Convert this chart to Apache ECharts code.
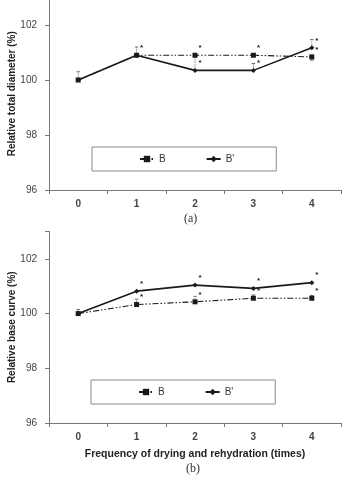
<!DOCTYPE html>
<html>
<head>
<meta charset="utf-8">
<script src="https://cdn.jsdelivr.net/npm/echarts@6/dist/echarts.min.js"></script>
<style>
html, body { margin: 0; padding: 0; background: #fff; }
#chart { width: 342px; height: 485px; }
</style>
</head>
<body>
<div id="chart"></div>
<script>
// drying / rehydration cycles
var cycles = ['0', '1', '2', '3', '4']
var yTicks = [96, 98, 100, 102]

// (a) relative total diameter
var diamB = [100, 100.9, 100.9, 100.9, 100.84]
var diamBp = [100, 100.9, 100.35, 100.35, 101.17]
var diamErrB = [0, 0, 0, 0, -0.12]
var diamErrBp = [0.3, 0.3, 0.5, 0.25, 0.3]
var diamStarB = [0, 0, 1, 1, 1]
var diamStarBp = [0, 1, 1, 1, 1]

// (b) relative base curve
var curveB = [100, 100.33, 100.43, 100.56, 100.56]
var curveBp = [100, 100.82, 101.04, 100.92, 101.13]
var curveErrB = [0.15, 0.2, 0.2, 0.12, 0.1]
var curveErrBp = [0, 0, 0, 0, 0]
var curveStarB = [0, 1, 1, 1, 1]
var curveStarBp = [0, 1, 1, 1, 1]

var ink = '#1a1a1a'
var axisGray = '#777'
var labelGray = '#444'

function xAxisOf(idx, name) {
  return {
    type: 'category',
    gridIndex: idx,
    data: cycles,
    boundaryGap: true,
    axisLine: { lineStyle: { color: axisGray, width: 1 } },
    axisTick: { show: true, length: 4, lineStyle: { color: axisGray } },
    axisLabel: { color: labelGray, fontSize: 10, fontWeight: 'bold', fontFamily: 'Liberation Sans', margin: 9 },
    name: name || '',
    nameLocation: 'middle',
    nameGap: 26,
    nameMoveOverlap: false,
    nameTextStyle: { color: '#222', fontSize: 10.5, fontWeight: 'bold', fontFamily: 'Liberation Sans' }
  }
}

function yAxisOf(idx, name) {
  return {
    type: 'value',
    gridIndex: idx,
    min: 96,
    max: 103,
    interval: 2,
    splitLine: { show: false },
    axisLine: { show: true, lineStyle: { color: axisGray, width: 1 } },
    axisTick: { show: true, length: 4, lineStyle: { color: axisGray } },
    axisLabel: {
      color: labelGray, fontSize: 10, fontFamily: 'Liberation Sans', margin: 12,
      formatter: function (v) { return yTicks.indexOf(v) >= 0 ? String(v) : '' }
    },
    name: name,
    nameLocation: 'middle',
    nameGap: 32,
    nameMoveOverlap: false,
    nameTextStyle: { color: '#222', fontSize: 10, fontWeight: 'bold', fontFamily: 'Liberation Sans' }
  }
}

function starLabel(flags) {
  return {
    show: true,
    position: [6, -9],
    fontSize: 8,
    color: '#222',
    fontWeight: 'bold',
    formatter: function (p) { return flags[p.dataIndex] ? '*' : '' }
  }
}

function lineSeries(idx, name, values, flags, dashed) {
  return {
    name: name,
    type: 'line',
    xAxisIndex: idx,
    yAxisIndex: idx,
    data: values,
    symbol: dashed ? 'rect' : 'diamond',
    symbolSize: 5,
    itemStyle: { color: ink },
    lineStyle: dashed
      ? { color: ink, width: 1.1, type: [6, 2, 1.5, 2, 1.5, 2] }
      : { color: ink, width: 1.6 },
    label: starLabel(flags),
    z: dashed ? 3 : 4
  }
}

function errorSeries(idx, values, errs) {
  return {
    type: 'custom',
    xAxisIndex: idx,
    yAxisIndex: idx,
    data: values.map(function (v, i) { return [i, v, v + errs[i]] }),
    renderItem: function (params, api) {
      if (api.value(1) === api.value(2)) return null
      var a = api.coord([api.value(0), api.value(1)])
      var b = api.coord([api.value(0), api.value(2)])
      return {
        type: 'group',
        children: [
          { type: 'line', shape: { x1: a[0], y1: a[1], x2: b[0], y2: b[1] }, style: { stroke: '#666', lineWidth: 0.8, lineDash: [1.5, 1] } },
          { type: 'line', shape: { x1: b[0] - 1.8, y1: b[1], x2: b[0] + 1.8, y2: b[1] }, style: { stroke: '#666', lineWidth: 0.9 } }
        ]
      }
    },
    silent: true,
    z: 2
  }
}

function legendOf(top, left) {
  return {
    top: top,
    left: left,
    data: ['B', "B'"],
    orient: 'horizontal',
    itemWidth: 14,
    itemHeight: 8,
    itemGap: 40,
    padding: [7, 42, 7, 47],
    borderColor: '#888',
    borderWidth: 1,
    textStyle: { color: '#333', fontSize: 10, fontFamily: 'Liberation Sans' }
  }
}

var chart = echarts.init(document.getElementById('chart'), null, { renderer: 'canvas' })

chart.setOption({
  backgroundColor: '#fff',
  animation: false,
  grid: [
    { left: 49, right: 1, top: -2.5, height: 192.5, outerBoundsMode: 'none', containLabel: false },
    { left: 49, right: 1, top: 231.5, height: 191.5, outerBoundsMode: 'none', containLabel: false }
  ],
  legend: [legendOf(147, 92), legendOf(380, 91)],
  xAxis: [xAxisOf(0), xAxisOf(1, 'Frequency of drying and rehydration (times)')],
  yAxis: [yAxisOf(0, 'Relative total diameter (%)'), yAxisOf(1, 'Relative base curve (%)')],
  series: [
    errorSeries(0, diamB, diamErrB),
    errorSeries(0, diamBp, diamErrBp),
    lineSeries(0, 'B', diamB, diamStarB, true),
    lineSeries(0, "B'", diamBp, diamStarBp, false),
    errorSeries(1, curveB, curveErrB),
    errorSeries(1, curveBp, curveErrBp),
    lineSeries(1, 'B', curveB, curveStarB, true),
    lineSeries(1, "B'", curveBp, curveStarBp, false)
  ],
  graphic: [
    { type: 'text', left: 184, top: 213, style: { text: '(a)', fill: '#333', font: '12px "Liberation Serif"' } },
    { type: 'text', left: 186, top: 463, style: { text: '(b)', fill: '#333', font: '12px "Liberation Serif"' } }
  ]
})
</script>
</body>
</html>
